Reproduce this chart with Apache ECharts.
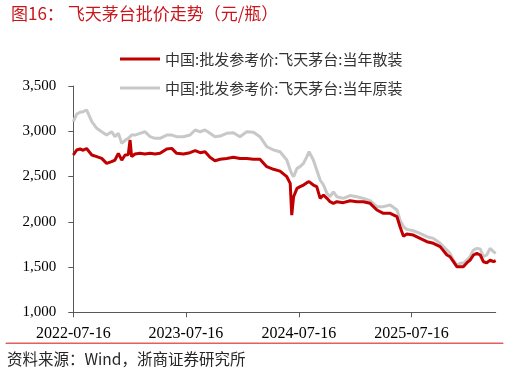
<!DOCTYPE html>
<html><head><meta charset="utf-8">
<script src="https://cdn.jsdelivr.net/npm/echarts@6/dist/echarts.min.js"></script>
<style>html,body{margin:0;padding:0;background:#fff}#c{width:521px;height:375px}</style>
</head><body><div id="c"></div>
<script>
var titleText = '图16： 飞天茅台批价走势（元/瓶）';
var sourceText = '资料来源：Wind，浙商证券研究所';
var seriesNames = ['中国:批发参考价:飞天茅台:当年散装', '中国:批发参考价:飞天茅台:当年原装'];
var xTickDates = ['2022-07-16', '2023-07-16', '2024-07-16', '2025-07-16'];
var xMin = '2022-07-16', xMax = '2026-04-15';
var yMin = 1000, yMax = 3500, yStep = 500;

var dates = [
 '2022-07-16','2022-07-27','2022-08-07','2022-08-17','2022-08-28','2022-09-03','2022-09-14','2022-09-30',
 '2022-10-16','2022-11-01','2022-11-17','2022-11-28','2022-12-09','2022-12-20','2022-12-31','2023-01-10',
 '2023-01-16','2023-01-21','2023-02-01','2023-02-17','2023-03-05','2023-03-22','2023-04-07','2023-04-23',
 '2023-05-15','2023-05-31','2023-06-16','2023-07-08','2023-07-29','2023-08-15','2023-08-31','2023-09-16',
 '2023-10-02','2023-10-18','2023-11-04','2023-11-25','2023-12-17','2024-01-07','2024-01-29','2024-02-20',
 '2024-03-12','2024-04-03','2024-04-25','2024-05-16','2024-06-07','2024-06-18','2024-06-23','2024-06-29',
 '2024-07-10','2024-07-20','2024-07-31','2024-08-11','2024-08-18','2024-09-01','2024-09-12','2024-09-23',
 '2024-10-04','2024-10-15','2024-10-25','2024-11-05','2024-11-16','2024-12-07','2024-12-29','2025-01-20',
 '2025-02-10','2025-03-04','2025-03-26','2025-04-16','2025-05-08','2025-05-30','2025-06-09','2025-06-20',
 '2025-07-01','2025-07-22','2025-08-13','2025-09-04','2025-09-25','2025-10-17','2025-11-08','2025-11-18',
 '2025-11-29','2025-12-10','2025-12-21','2025-12-31','2026-01-12','2026-01-22','2026-02-02','2026-02-13',
 '2026-02-24','2026-03-06','2026-03-17','2026-03-28','2026-04-08','2026-04-15'
];
var looseValues = [
 2738,2793,2804,2790,2810,2818,2738,2719,
 2700,2645,2664,2682,2756,2682,2738,2740,
 2903,2719,2749,2756,2750,2756,2750,2756,
 2804,2811,2756,2749,2763,2785,2763,2774,
 2712,2675,2690,2700,2712,2700,2700,2690,
 2690,2609,2580,2560,2498,2424,2074,2277,
 2369,2388,2406,2432,2443,2406,2388,2259,
 2296,2259,2222,2204,2222,2211,2233,2222,
 2222,2204,2130,2093,2093,2056,1945,1840,
 1864,1853,1817,1780,1762,1725,1633,1614,
 1559,1504,1504,1504,1548,1577,1633,1651,
 1633,1559,1548,1575,1559,1570
];
var boxedValues = [
 3106,3190,3210,3216,3235,3227,3106,3033,
 2995,2958,2995,2940,2977,2866,2900,2922,
 2940,2958,2958,2977,2995,2940,2922,2922,
 2958,2958,2940,2940,2958,3014,2995,3014,
 2977,2940,2947,2977,2984,2940,2995,2990,
 2940,2830,2793,2774,2682,2572,2530,2498,
 2590,2609,2645,2719,2774,2682,2572,2461,
 2406,2314,2277,2332,2277,2259,2290,2277,
 2259,2233,2167,2167,2185,2130,2019,1945,
 1916,1901,1872,1835,1817,1762,1688,1651,
 1577,1522,1541,1541,1577,1614,1688,1706,
 1700,1614,1633,1706,1669,1651
];

function ts(s){ var p = s.split('-'); return Date.UTC(+p[0], +p[1]-1, +p[2]); }
function fmtDate(v){ var d = new Date(v); var m = d.getUTCMonth()+1, dd = d.getUTCDate();
  return d.getUTCFullYear() + '-' + (m<10?'0':'') + m + '-' + (dd<10?'0':'') + dd; }
function pairs(vals){ return dates.map(function(d,i){ return [ts(d), vals[i]]; }); }
function addCommas(v){ return String(v).replace(/\B(?=(\d{3})+(?!\d))/g, ','); }

var chart = echarts.init(document.getElementById('c'), null, {renderer:'canvas'});
var tickTs = xTickDates.map(ts);
chart.setOption({
  animation: false,
  backgroundColor: '#fff',
  title: {
    text: titleText, left: 6, top: 0,
    textStyle: {fontFamily: 'Noto Sans CJK SC', fontSize: 17, fontWeight: 'normal', color: '#C8161D'}
  },
  legend: {
    orient: 'vertical', left: 115, top: 46,
    itemWidth: 40, itemHeight: 3, itemGap: 13, icon: 'rect',
    data: [seriesNames[0], seriesNames[1]],
    textStyle: {fontFamily: 'Noto Sans CJK SC', fontSize: 15, color: '#333333', lineHeight: 16}
  },
  grid: [
    {left: 73.3, right: 25.3, top: 86, bottom: 62.7},
    {left: 6, right: 18, top: 343, height: 10}
  ],
  xAxis: [{
    type: 'value', min: ts(xMin), max: ts(xMax), scale: true,
    axisLine: {lineStyle: {color: '#595959', width: 1}},
    axisTick: {show: true, customValues: tickTs, length: 5, lineStyle: {color: '#595959'}},
    axisLabel: {
      customValues: tickTs, margin: 13, color: '#000',
      fontFamily: 'Liberation Serif', fontSize: 16,
      formatter: function(v){ return fmtDate(v); }
    },
    splitLine: {show: false}
  }, {
    gridIndex: 1, type: 'value', position: 'top', min: 0, max: 1,
    axisLine: {show: true, onZero: false, lineStyle: {color: '#E06060', width: 1.2}},
    axisTick: {show: false}, axisLabel: {show: false}, splitLine: {show: false}
  }],
  yAxis: [{
    type: 'value', min: yMin, max: yMax, interval: yStep,
    axisLine: {show: true, lineStyle: {color: '#595959', width: 1}},
    axisTick: {show: true, length: 5, lineStyle: {color: '#595959'}},
    axisLabel: {margin: 17, color: '#000', fontFamily: 'Liberation Serif', fontSize: 15,
      formatter: function(v){ return addCommas(v); }},
    splitLine: {show: false}
  }, {
    gridIndex: 1, type: 'value', min: 0, max: 1, show: false
  }],
  series: [
    {name: seriesNames[1], type: 'line', data: pairs(boxedValues), showSymbol: false, symbol: 'none',
     lineStyle: {color: '#C8C8C8', width: 3}, itemStyle: {color: '#C8C8C8'}, z: 2},
    {name: seriesNames[0], type: 'line', data: pairs(looseValues), showSymbol: false, symbol: 'none',
     lineStyle: {color: '#C00000', width: 3}, itemStyle: {color: '#C00000'}, z: 3}
  ],
  graphic: [
    {type: 'rect', z: 100, shape: {x: 6, y: 342.5, width: 497, height: 1.2}, style: {fill: '#E06060', stroke: null}},
    {type: 'text', id: 'src', z: 100, left: 7, top: 351, style: {text: sourceText, fontFamily: 'Noto Sans CJK SC', fontSize: 15.5, fill: '#262626'}}
  ]
});
</script></body></html>
